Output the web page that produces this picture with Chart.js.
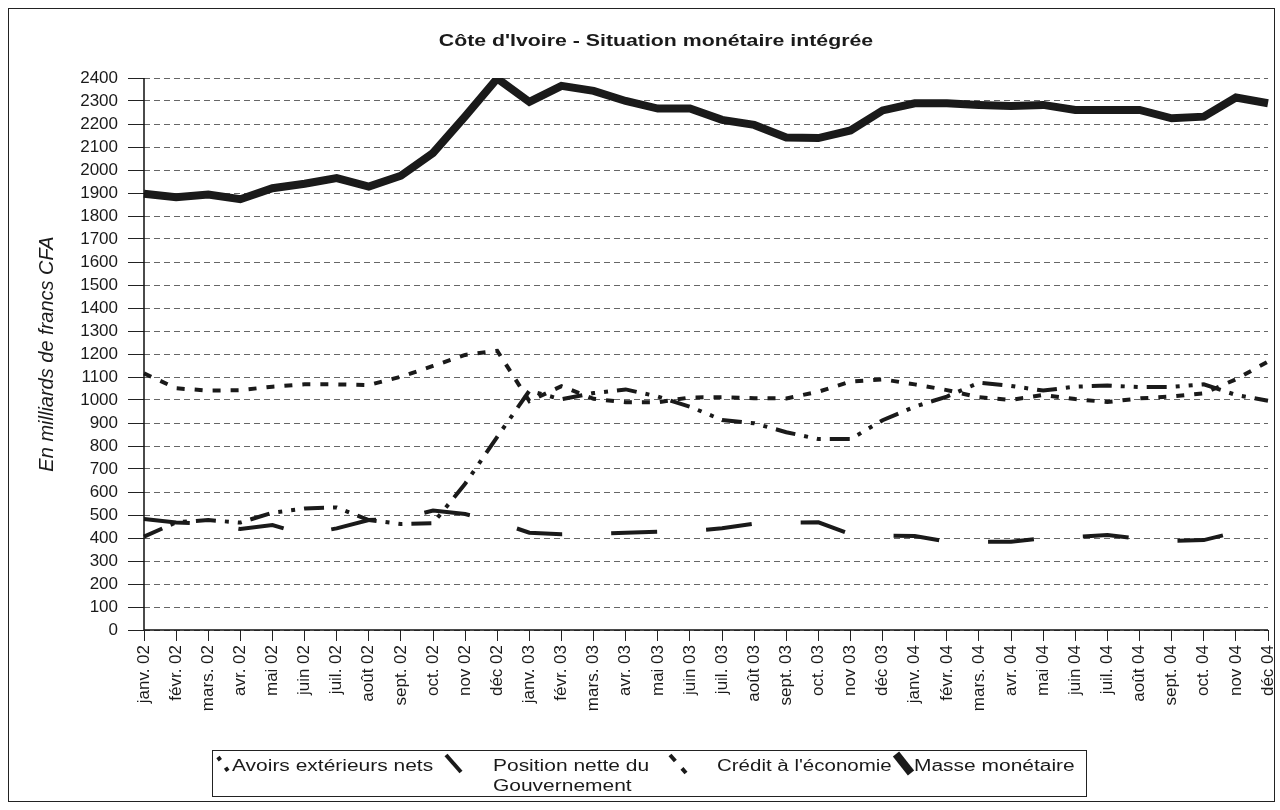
<!DOCTYPE html>
<html>
<head>
<meta charset="utf-8">
<script src="https://cdn.jsdelivr.net/npm/chart.js@4.4.1/dist/chart.umd.min.js"></script>
<style>
  html, body { margin: 0; padding: 0; background: #fff; }
  #wrap { width: 1280px; height: 810px; }
</style>
</head>
<body>
<div id="wrap"><canvas id="chart" width="1280" height="810"></canvas></div>
<script>
const months = [
  'janv. 02', 'févr. 02', 'mars. 02', 'avr. 02', 'mai 02', 'juin 02', 'juil. 02', 'août 02', 'sept. 02', 'oct. 02', 'nov 02', 'déc 02',
  'janv. 03', 'févr. 03', 'mars. 03', 'avr. 03', 'mai 03', 'juin 03', 'juil. 03', 'août 03', 'sept. 03', 'oct. 03', 'nov 03', 'déc 03',
  'janv. 04', 'févr. 04', 'mars. 04', 'avr. 04', 'mai 04', 'juin 04', 'juil. 04', 'août 04', 'sept. 04', 'oct. 04', 'nov 04', 'déc 04'
];

// milliards de francs CFA
const avoirsExterieurs = [
  406, 468, 478, 467, 510, 528, 533, 478, 461, 464, 636, 840,
  1040, 1003, 1030, 1046, 1015, 971, 913, 899, 860, 830, 830, 912,
  971, 1015, 1075, 1061, 1041, 1058, 1063, 1056, 1057, 1068, 1022, 997
];
const positionGouvernement = [
  483, 467, 462, 439, 456, 415, 442, 478, 485, 519, 504, 470,
  423, 416, 418, 423, 427, 430, 442, 462, 466, 468, 417, 410,
  409, 384, 384, 384, 399, 405, 413, 396, 388, 391, 425, 415
];
const creditEconomie = [
  1116, 1051, 1041, 1043, 1058, 1068, 1068, 1065, 1101, 1148, 1196, 1214,
  995, 1060, 1005, 990, 990, 1011, 1012, 1008, 1007, 1036, 1080, 1090,
  1068, 1043, 1012, 1000, 1022, 1004, 991, 1007, 1015, 1029, 1090, 1167
];
const masseMonetaire = [
  1897, 1882, 1893, 1873, 1921, 1940, 1965, 1928, 1975, 2074, 2233, 2398,
  2296, 2366, 2344, 2300, 2267, 2267, 2218, 2196, 2141, 2139, 2172, 2259,
  2290, 2290, 2283, 2278, 2283, 2261, 2261, 2261, 2225, 2232, 2315, 2290
];

const FONT = "'Liberation Sans', Arial, sans-serif";
const INK = '#1a1a1a';

const series = {
  avoirs: { label: 'Avoirs extérieurs nets', data: avoirsExterieurs, borderWidth: 4, borderDash: [20, 9, 4, 9, 4, 9] },
  position: { label: 'Position nette du Gouvernement', data: positionGouvernement, borderWidth: 4, borderDash: [46, 49] },
  credit: { label: "Crédit à l'économie", data: creditEconomie, borderWidth: 4, borderDash: [8, 10] },
  masse: { label: 'Masse monétaire', data: masseMonetaire, borderWidth: 8, borderDash: [] }
};

const makeDataset = (s) => ({
  label: s.label,
  data: s.data,
  borderColor: INK,
  backgroundColor: INK,
  borderWidth: s.borderWidth,
  borderDash: s.borderDash,
  borderCapStyle: 'butt',
  borderJoinStyle: 'miter',
  pointRadius: 0,
  pointHoverRadius: 0,
  tension: 0,
  fill: false
});

// stretched text, the original picture is wide
function wideText(ctx, str, x, y, sx) {
  ctx.save();
  ctx.translate(x, y);
  ctx.scale(sx, 1);
  ctx.fillText(str, 0, 0);
  ctx.restore();
}

function drawKey(ctx, s, x1, y1, x2, y2, offset) {
  ctx.save();
  ctx.strokeStyle = INK;
  ctx.lineWidth = s.borderWidth;
  ctx.lineCap = 'butt';
  ctx.setLineDash(s.borderDash);
  ctx.lineDashOffset = offset || 0;
  ctx.beginPath();
  ctx.moveTo(x1, y1);
  ctx.lineTo(x2, y2);
  ctx.stroke();
  ctx.restore();
}

const decorPlugin = {
  id: 'decor',
  afterDraw(chart) {
    const ctx = chart.ctx;
    const area = chart.chartArea;
    ctx.save();

    // outer frame
    ctx.strokeStyle = '#222';
    ctx.lineWidth = 1;
    ctx.strokeRect(8.5, 8.5, 1266, 793);

    // axes
    ctx.strokeStyle = '#111';
    ctx.lineWidth = 1.5;
    ctx.beginPath();
    ctx.moveTo(area.left, area.top);
    ctx.lineTo(area.left, area.bottom);
    ctx.lineTo(area.right, area.bottom);
    ctx.stroke();

    // title
    ctx.fillStyle = INK;
    ctx.textAlign = 'center';
    ctx.textBaseline = 'alphabetic';
    ctx.font = 'bold 16px ' + FONT;
    wideText(ctx, "Côte d'Ivoire - Situation monétaire intégrée", 656, 46, 1.33);

    // legend box
    ctx.strokeStyle = '#222';
    ctx.lineWidth = 1;
    ctx.strokeRect(212.5, 750.5, 874, 46);

    drawKey(ctx, series.avoirs, 218, 757, 228, 771, 29);
    drawKey(ctx, series.position, 446, 755, 461, 772, 0);
    drawKey(ctx, series.credit, 670, 755, 686, 773, 0);
    drawKey(ctx, series.masse, 896, 754, 911, 773, 0);

    ctx.fillStyle = INK;
    ctx.textAlign = 'left';
    ctx.font = '16px ' + FONT;
    wideText(ctx, 'Avoirs extérieurs nets', 232, 771, 1.31);
    wideText(ctx, 'Position nette du', 493, 771, 1.31);
    wideText(ctx, 'Gouvernement', 493, 791, 1.31);
    wideText(ctx, "Crédit à l'économie", 717, 771, 1.28);
    wideText(ctx, 'Masse monétaire', 914, 771, 1.31);

    ctx.restore();
  }
};

const ctx = document.getElementById('chart').getContext('2d');
new Chart(ctx, {
  type: 'line',
  data: {
    labels: months,
    datasets: [
      makeDataset(series.masse),
      makeDataset(series.avoirs),
      makeDataset(series.credit),
      makeDataset(series.position)
    ]
  },
  options: {
    responsive: false,
    animation: false,
    devicePixelRatio: 1,
    layout: { padding: { left: 0, top: 78, right: 12, bottom: 80 } },
    plugins: {
      legend: { display: false },
      title: { display: false },
      tooltip: { enabled: false }
    },
    scales: {
      x: {
        offset: false,
        afterFit: (scale) => {
          scale.height = 100;
          scale.paddingLeft = 0;
          scale.paddingRight = 0;
        },
        grid: {
          drawOnChartArea: false,
          drawTicks: true,
          tickLength: 11,
          tickColor: '#222',
          tickWidth: 1,
          color: '#222'
        },
        border: { display: false },
        ticks: {
          autoSkip: false,
          maxRotation: 90,
          minRotation: 90,
          padding: 4,
          color: INK,
          font: { family: FONT, size: 17 }
        }
      },
      y: {
        min: 0,
        max: 2400,
        afterFit: (scale) => { scale.width = 144; },
        grid: {
          color: '#666',
          lineWidth: 1,
          drawTicks: true,
          tickLength: 16,
          tickColor: '#222',
          tickBorderDash: [],
          borderDash: [6, 4]
        },
        border: { display: false, dash: [6, 4] },
        ticks: {
          stepSize: 100,
          autoSkip: false,
          padding: 10,
          color: INK,
          font: { family: FONT, size: 17 },
          callback: (v) => String(v)
        },
        title: {
          display: true,
          text: 'En milliards de francs CFA',
          color: INK,
          font: { family: FONT, size: 20, style: 'italic' },
          padding: { top: 35, bottom: 0 }
        }
      }
    }
  },
  plugins: [decorPlugin]
});
</script>
</body>
</html>
